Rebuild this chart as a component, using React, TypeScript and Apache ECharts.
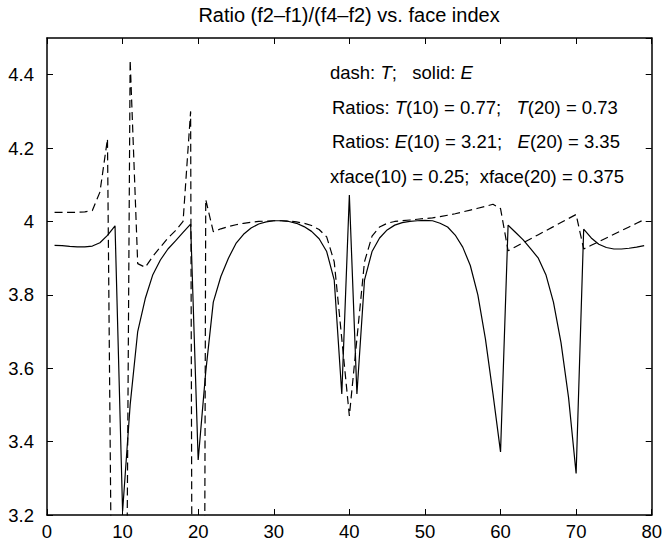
import React, { useEffect, useRef } from "react";
import * as echarts from "echarts";

const faceIndex = [
  1, 2, 3, 4, 5, 6, 7, 8, 9, 10, 11, 12, 13, 14, 15, 16, 17, 18, 19, 20,
  21, 22, 23, 24, 25, 26, 27, 28, 29, 30, 31, 32, 33, 34, 35, 36, 37, 38, 39, 40,
  41, 42, 43, 44, 45, 46, 47, 48, 49, 50, 51, 52, 53, 54, 55, 56, 57, 58, 59, 60,
  61, 62, 63, 64, 65, 66, 67, 68, 69, 70, 71, 72, 73, 74, 75, 76, 77, 78, 79,
];

// solid: E
const ratioE = [
  3.935, 3.934, 3.932, 3.931, 3.931, 3.933, 3.942, 3.962, 3.988, 3.21,
  3.5, 3.7, 3.79, 3.855, 3.895, 3.925, 3.947, 3.97, 3.993, 3.35,
  3.59, 3.78, 3.85, 3.9, 3.94, 3.965, 3.982, 3.993, 3.999, 4.002,
  4.002, 4.0, 3.995, 3.986, 3.973, 3.953, 3.918, 3.84, 3.53, 4.072,
  3.53, 3.84, 3.918, 3.955, 3.977, 3.99, 3.997, 4.0, 4.002, 4.003,
  4.002, 3.995, 3.985, 3.963, 3.93, 3.88, 3.8, 3.68, 3.53, 3.372,
  3.99, 3.97, 3.95, 3.925, 3.9, 3.855, 3.78, 3.67, 3.52, 3.313,
  3.979, 3.955, 3.938, 3.929, 3.925, 3.925, 3.927, 3.93, 3.934,
];

// dash: T
const ratioT = [
  4.025, 4.025, 4.025, 4.025, 4.026, 4.03, 4.08, 4.225, 1.9, 1.2,
  4.44, 3.885, 3.875, 3.905, 3.93, 3.955, 3.975, 4.0, 4.3, -3.0,
  4.06, 3.972, 3.98, 3.986, 3.991, 3.995, 3.998, 4.0, 4.001, 4.002,
  4.002, 4.001, 3.999, 3.995, 3.989, 3.978, 3.958, 3.89, 3.68, 3.47,
  3.68, 3.89, 3.96, 3.985, 3.995, 4.0, 4.002, 4.004, 4.006, 4.008,
  4.01, 4.013, 4.017, 4.021, 4.026, 4.031, 4.036, 4.041, 4.047, 4.035,
  3.92, 3.931, 3.942, 3.953, 3.964, 3.975, 3.986, 3.997, 4.008, 4.019,
  3.925, 3.935, 3.945, 3.955, 3.965, 3.975, 3.985, 3.995, 4.005,
];

const titleText = "Ratio (f2\u2013f1)/(f4\u2013f2) vs. face index";
const NB = "\u00A0";
const noteLines = [
  `dash: {i|T};${NB}${NB}${NB}solid: {i|E}`,
  `Ratios: {i|T}(10) = 0.77;${NB}${NB}${NB}{i|T}(20) = 0.73`,
  `Ratios: {i|E}(10) = 3.21;${NB}${NB}${NB}{i|E}(20) = 3.35`,
  `xface(10) = 0.25;${NB}${NB}xface(20) = 0.375`,
];

const FONT = '"Liberation Sans", Arial, Helvetica, sans-serif';

export default function App() {
  const ref = useRef<HTMLDivElement>(null);

  useEffect(() => {
    if (!ref.current) return;
    const chart = echarts.init(ref.current, undefined, { renderer: "svg" });

    const axisCommon = {
      type: "value" as const,
      axisLine: { show: true, onZero: false, lineStyle: { color: "#000", width: 1.5 } },
      axisTick: { show: true, inside: true, length: 6, lineStyle: { color: "#000", width: 1 } },
      splitLine: { show: false },
    };

    const noteY = [72.5, 107, 141.5, 176];
    const noteX = [330, 332, 332, 330];

    const option = {
      animation: false,
      backgroundColor: "#fff",
      grid: { left: 47, right: 13, top: 38, bottom: 28, containLabel: false },
      xAxis: [
        {
          ...axisCommon,
          min: 0,
          max: 80,
          interval: 10,
          position: "bottom",
          axisLabel: { color: "#000", fontSize: 18.5, fontFamily: FONT, margin: 7 },
        },
        {
          ...axisCommon,
          min: 0,
          max: 80,
          interval: 10,
          position: "top",
          axisLabel: { show: false },
        },
      ],
      yAxis: [
        {
          ...axisCommon,
          min: 3.2,
          max: 4.5,
          interval: 0.2,
          position: "left",
          axisLabel: {
            color: "#000",
            fontSize: 18.5,
            fontFamily: FONT,
            margin: 13,
            showMaxLabel: false,
            formatter: (v: number) => String(Number(v.toFixed(1))),
          },
        },
        {
          ...axisCommon,
          min: 3.2,
          max: 4.5,
          interval: 0.2,
          position: "right",
          axisLabel: { show: false },
        },
      ],
      series: [
        {
          name: "E",
          type: "line",
          xAxisIndex: 0,
          yAxisIndex: 0,
          data: faceIndex.map((x, i) => [x, ratioE[i]]),
          symbol: "none",
          clip: true,
          lineStyle: { color: "#000", width: 1.2, type: "solid" },
        },
        {
          name: "T",
          type: "line",
          xAxisIndex: 0,
          yAxisIndex: 0,
          data: faceIndex.map((x, i) => [x, ratioT[i]]),
          symbol: "none",
          clip: true,
          lineStyle: { color: "#000", width: 1.2, type: [8, 4.5] },
        },
      ],
      graphic: [
        {
          type: "text",
          x: 349,
          y: 15,
          style: {
            text: titleText,
            fill: "#000",
            fontSize: 20,
            fontFamily: FONT,
            align: "center",
            verticalAlign: "middle",
          },
        },
        ...noteLines.map((t, k) => ({
          type: "text",
          x: noteX[k],
          y: noteY[k],
          style: {
            text: t,
            fill: "#000",
            fontSize: 18.5,
            fontFamily: FONT,
            align: "left",
            verticalAlign: "middle",
            rich: {
              i: { fontStyle: "italic", fontSize: 18.5, fontFamily: FONT, fill: "#000" },
            },
          },
        })),
      ],
    };

    chart.setOption(option as any);
    return () => chart.dispose();
  }, []);

  return (
    <div
      ref={ref}
      style={{ position: "fixed", left: 0, top: 0, width: 665, height: 543, background: "#fff" }}
    />
  );
}
